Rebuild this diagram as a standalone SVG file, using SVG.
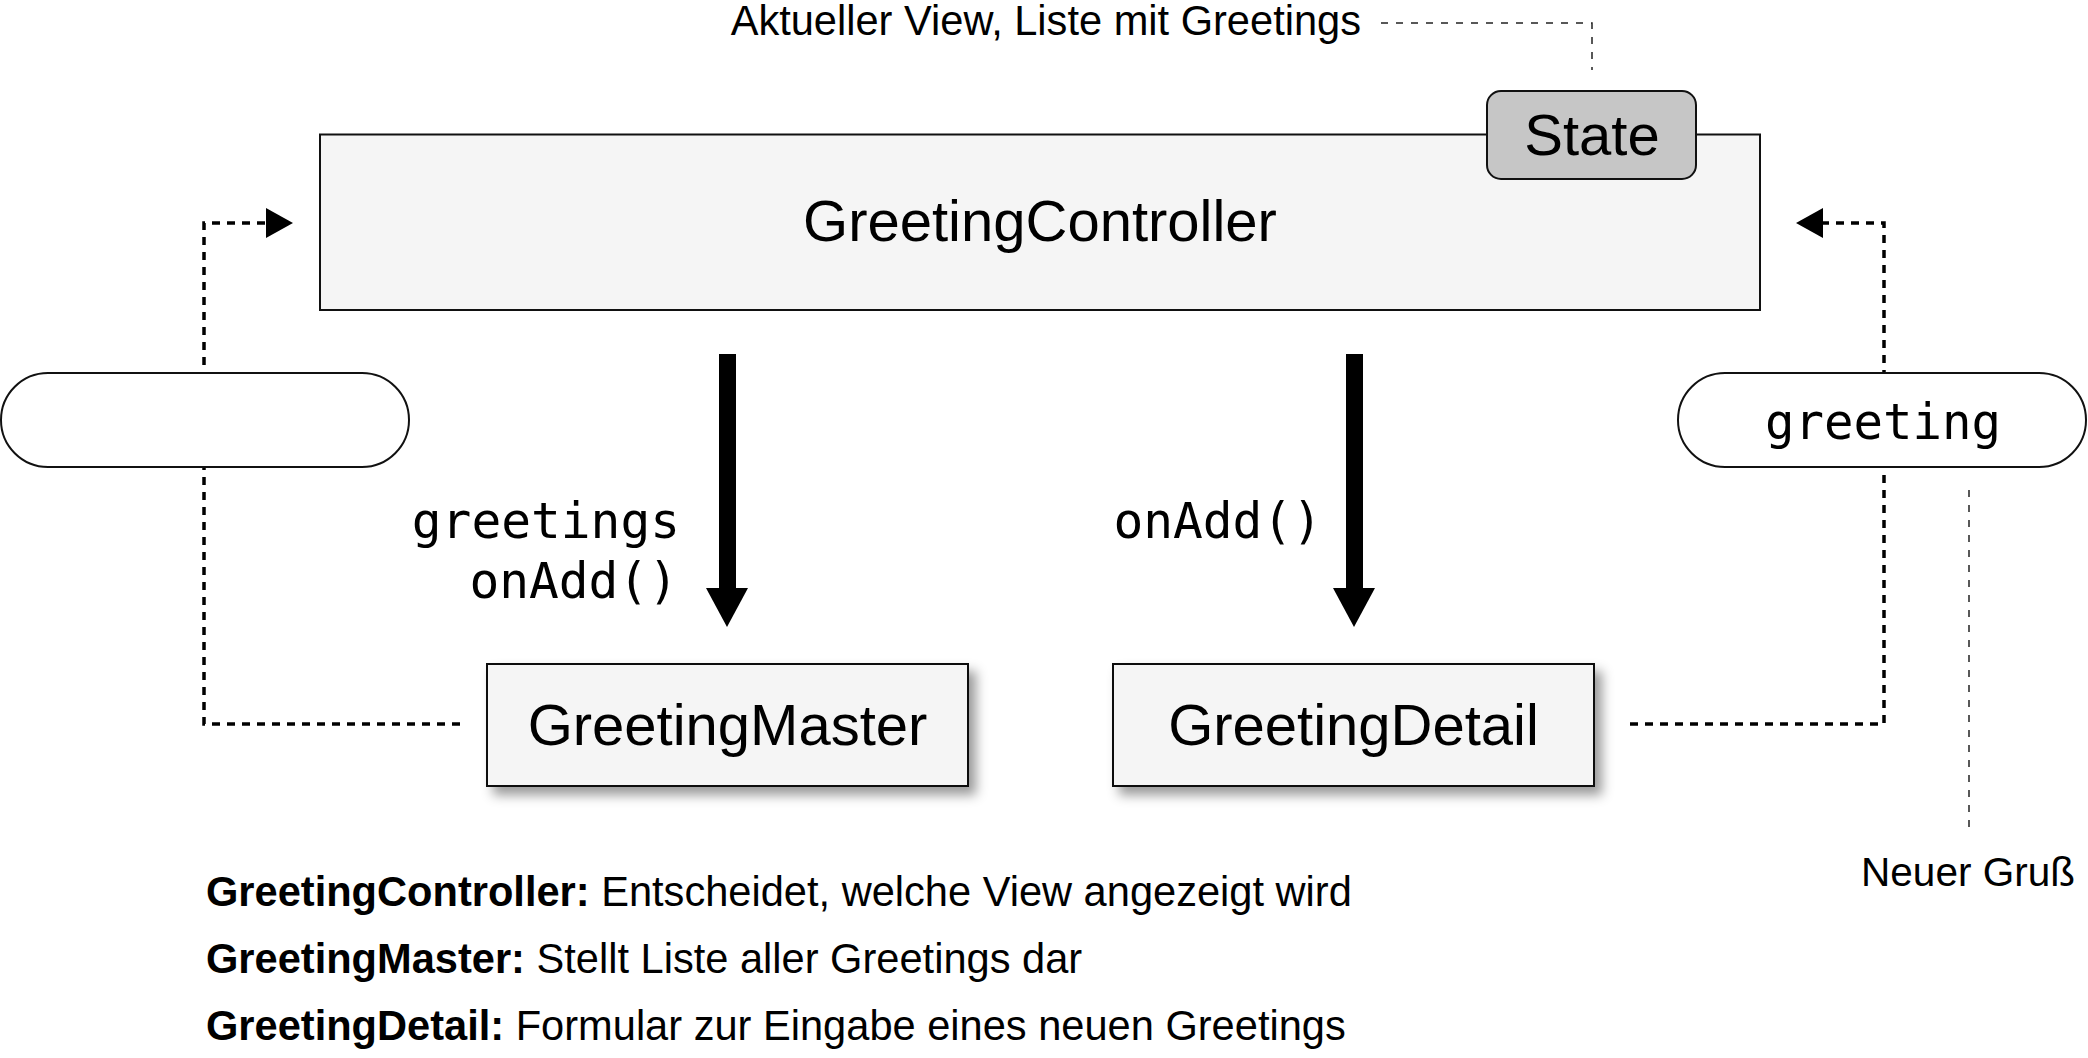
<svg xmlns="http://www.w3.org/2000/svg" width="2088" height="1058" viewBox="0 0 2088 1058">
<style>
.sans{font-family:"Liberation Sans",Arial,sans-serif;fill:#000}
.mono{font-family:"DejaVu Sans Mono","Liberation Mono",monospace;fill:#000}
.box{fill:#f5f5f5;stroke:#111;stroke-width:2}
.pill{fill:#fff;stroke:#111;stroke-width:2}
.dot{fill:none;stroke:#000;stroke-width:3.5;stroke-dasharray:8 7}
.note{fill:none;stroke:#222;stroke-width:1.5;stroke-dasharray:7 8}
.big{font-size:58px}
</style>
<defs>
<filter id="sh" x="-10%" y="-10%" width="130%" height="140%">
<feDropShadow dx="7" dy="8" stdDeviation="6" flood-color="#000" flood-opacity="0.4"/>
</filter>
</defs>
<rect width="2088" height="1058" fill="#fff"/>

<g id="connectors">
<path class="dot" d="M460 724 H204 V223 H268"/>
<polygon points="266,208 293,223 266,238" fill="#000"/>
<path class="dot" d="M1630 724 H1884 V223 H1823"/>
<polygon points="1823,208 1796,223 1823,238" fill="#000"/>
<rect x="719" y="354" width="17" height="236" fill="#000"/>
<polygon points="706,588 748,588 727,627" fill="#000"/>
<rect x="1346" y="354" width="17" height="236" fill="#000"/>
<polygon points="1333,588 1375,588 1354,627" fill="#000"/>
<path class="note" d="M1381 23 H1592 V70"/>
<path class="note" d="M1969 490 V832"/>
</g>

<g id="controller">
<rect class="box" x="320" y="134.5" width="1440" height="175.5"/>
<text class="sans big" x="1040" y="241" text-anchor="middle">GreetingController</text>
</g>

<g id="state">
<rect x="1487" y="91" width="209" height="88" rx="14" fill="#c6c6c6" stroke="#111" stroke-width="2"/>
<text class="sans big" x="1592" y="155" text-anchor="middle">State</text>
</g>

<g id="state-note">
<text class="sans" x="1361" y="35" font-size="41.6" text-anchor="end">Aktueller View, Liste mit Greetings</text>
</g>

<g id="left-pill">
<rect class="pill" x="1" y="373" width="408" height="94" rx="47"/>
</g>

<g id="right-pill">
<rect class="pill" x="1678" y="373" width="408" height="94" rx="47"/>
<text class="mono" x="1883" y="439" font-size="49" text-anchor="middle">greeting</text>
</g>

<g id="master-props">
<text class="mono" x="680" y="538" font-size="49.5" text-anchor="end">greetings</text>
<text class="mono" x="678" y="598" font-size="49.5" text-anchor="end">onAdd()</text>
</g>

<g id="detail-props">
<text class="mono" x="1322" y="538" font-size="49.5" text-anchor="end">onAdd()</text>
</g>

<g id="master">
<rect class="box" x="487" y="664" width="481" height="122" filter="url(#sh)"/>
<text class="sans big" x="727.5" y="745" text-anchor="middle">GreetingMaster</text>
</g>

<g id="detail">
<rect class="box" x="1113" y="664" width="481" height="122" filter="url(#sh)"/>
<text class="sans big" x="1353.5" y="745" text-anchor="middle">GreetingDetail</text>
</g>

<g id="neuer-gruss">
<text class="sans" x="1968" y="886" font-size="40.5" text-anchor="middle">Neuer Gruß</text>
</g>

<g id="legend">
<text class="sans" x="206" y="906" font-size="41.6"><tspan font-weight="bold">GreetingController:</tspan> Entscheidet, welche View angezeigt wird</text>
<text class="sans" x="206" y="973" font-size="41.6"><tspan font-weight="bold">GreetingMaster:</tspan> Stellt Liste aller Greetings dar</text>
<text class="sans" x="206" y="1040" font-size="41.6"><tspan font-weight="bold">GreetingDetail:</tspan> Formular zur Eingabe eines neuen Greetings</text>
</g>
</svg>
